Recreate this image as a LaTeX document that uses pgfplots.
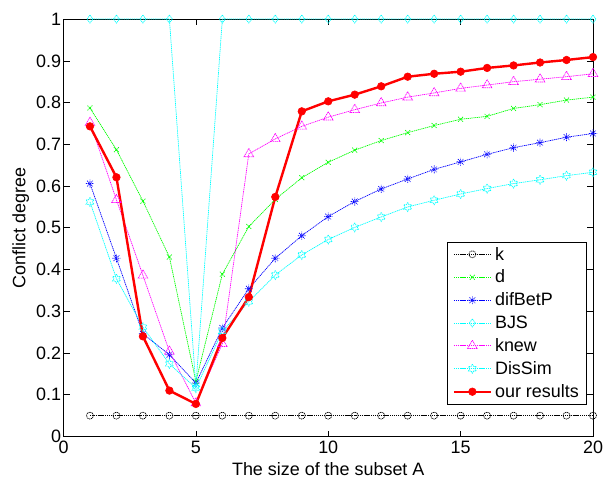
\documentclass[border=0pt]{standalone}
\usepackage{fontspec}
\setmainfont{Liberation Sans}
\usepackage{pgfplots}
\pgfplotsset{compat=1.18}

% MATLAB-like markers
\pgfdeclareplotmark{hexagram}{%
  \pgfpathmoveto{\pgfpointpolar{90}{\pgfplotmarksize}}%
  \pgfpathlineto{\pgfpointpolar{120}{0.577\pgfplotmarksize}}%
  \pgfpathlineto{\pgfpointpolar{150}{\pgfplotmarksize}}%
  \pgfpathlineto{\pgfpointpolar{180}{0.577\pgfplotmarksize}}%
  \pgfpathlineto{\pgfpointpolar{210}{\pgfplotmarksize}}%
  \pgfpathlineto{\pgfpointpolar{240}{0.577\pgfplotmarksize}}%
  \pgfpathlineto{\pgfpointpolar{270}{\pgfplotmarksize}}%
  \pgfpathlineto{\pgfpointpolar{300}{0.577\pgfplotmarksize}}%
  \pgfpathlineto{\pgfpointpolar{330}{\pgfplotmarksize}}%
  \pgfpathlineto{\pgfpointpolar{0}{0.577\pgfplotmarksize}}%
  \pgfpathlineto{\pgfpointpolar{30}{\pgfplotmarksize}}%
  \pgfpathlineto{\pgfpointpolar{60}{0.577\pgfplotmarksize}}%
  \pgfpathclose
  \pgfusepathqstroke}
\pgfdeclareplotmark{matstar}{%
  \pgfpathmoveto{\pgfpoint{-\pgfplotmarksize}{0pt}}%
  \pgfpathlineto{\pgfpoint{\pgfplotmarksize}{0pt}}%
  \pgfpathmoveto{\pgfpoint{0pt}{-\pgfplotmarksize}}%
  \pgfpathlineto{\pgfpoint{0pt}{\pgfplotmarksize}}%
  \pgfpathmoveto{\pgfpoint{-0.707\pgfplotmarksize}{-0.707\pgfplotmarksize}}%
  \pgfpathlineto{\pgfpoint{0.707\pgfplotmarksize}{0.707\pgfplotmarksize}}%
  \pgfpathmoveto{\pgfpoint{-0.707\pgfplotmarksize}{0.707\pgfplotmarksize}}%
  \pgfpathlineto{\pgfpoint{0.707\pgfplotmarksize}{-0.707\pgfplotmarksize}}%
  \pgfusepathqstroke}

\definecolor{mGreen}{rgb}{0,1,0}
\definecolor{mBlue}{rgb}{0,0,1}
\definecolor{mCyan}{rgb}{0,1,1}
\definecolor{mMag}{rgb}{1,0,1}
\definecolor{mRed}{rgb}{1,0,0}

\begin{document}
\begin{tikzpicture}
% figure margins as in the reference
\useasboundingbox (-63.5bp,-42.5bp) rectangle (541.5bp,436.5bp);
\begin{axis}[
    at={(0,0)}, anchor=south west,
    scale only axis,
    width=529.5bp,
    height=417.4bp,
    xmin=0, xmax=20,
    ymin=0, ymax=1,
    xtick={0,5,10,15,20},
    ytick={0,0.1,0.2,0.3,0.4,0.5,0.6,0.7,0.8,0.9,1},
    yticklabel style={/pgf/number format/fixed,/pgf/number format/precision=1},
    /pgf/number format/assume math mode=true,
    tick align=inside,
    major tick length=6bp,
    tick style={black,line width=0.6bp},
    axis line style={black,line width=0.9bp},
    ticklabel style={font=\fontsize{18}{21}\selectfont},
    xticklabel style={yshift=-1bp},
    yticklabel style={xshift=1bp},
    label style={font=\fontsize{18}{21}\selectfont},
    xlabel={The size of the subset A},
    ylabel={Conflict degree},
    xlabel style={yshift=-2bp},
    clip=false,
    every axis plot/.append style={line width=0.7bp, dash pattern=on 1.2bp off 0.7bp},
    every mark/.append style={solid, line width=0.6bp},
    legend image code/.code={%
        \draw[mark repeat=2,mark phase=2] plot coordinates {(0bp,0bp) (18.5bp,0bp) (37bp,0bp)};},
    legend style={at={(0.989,0.077)}, anchor=south east,
        draw=black, line width=0.8bp, fill=white,
        font=\fontsize{18}{21}\selectfont,
        row sep=6.5bp, inner xsep=5bp, inner ysep=4bp,
        nodes={inner xsep=3bp, inner ysep=1bp}},
    legend cell align=left,
]
\addplot[black, mark=o, mark size=3.5bp] coordinates {
(1,0.05) (2,0.05) (3,0.05) (4,0.05) (5,0.05) (6,0.05) (7,0.05) (8,0.05) (9,0.05) (10,0.05)
(11,0.05) (12,0.05) (13,0.05) (14,0.05) (15,0.05) (16,0.05) (17,0.05) (18,0.05) (19,0.05) (20,0.05)};
\addlegendentry{k}
\addplot[mGreen, mark=x, mark size=3.5bp] coordinates {
(1,0.787) (2,0.687) (3,0.564) (4,0.430) (5,0.132) (6,0.389) (7,0.503) (8,0.568) (9,0.620) (10,0.657)
(11,0.686) (12,0.709) (13,0.728) (14,0.745) (15,0.760) (16,0.767) (17,0.786) (18,0.795) (19,0.806) (20,0.813)};
\addlegendentry{d}
\addplot[mBlue, mark=matstar, mark size=4bp] coordinates {
(1,0.606) (2,0.427) (3,0.246) (4,0.196) (5,0.128) (6,0.260) (7,0.354) (8,0.427) (9,0.481) (10,0.527)
(11,0.563) (12,0.593) (13,0.617) (14,0.640) (15,0.658) (16,0.676) (17,0.692) (18,0.704) (19,0.717) (20,0.726)};
\addlegendentry{difBetP}
\addplot[mCyan, mark=diamond, mark size=4bp] coordinates {
(1,1) (2,1) (3,1) (4,1) (5,0.120) (6,1) (7,1) (8,1) (9,1) (10,1)
(11,1) (12,1) (13,1) (14,1) (15,1) (16,1) (17,1) (18,1) (19,1) (20,1)};
\addlegendentry{BJS}
\addplot[mMag, mark=triangle, mark size=5.5bp] coordinates {
(1,0.752) (2,0.567) (3,0.386) (4,0.204) (5,0.080) (6,0.222) (7,0.677) (8,0.713) (9,0.743) (10,0.765)
(11,0.783) (12,0.799) (13,0.813) (14,0.823) (15,0.834) (16,0.842) (17,0.850) (18,0.856) (19,0.862) (20,0.869)};
\addlegendentry{knew}
\addplot[mCyan, mark=hexagram, mark size=4.5bp] coordinates {
(1,0.562) (2,0.378) (3,0.262) (4,0.174) (5,0.116) (6,0.252) (7,0.323) (8,0.387) (9,0.435) (10,0.472)
(11,0.501) (12,0.526) (13,0.550) (14,0.566) (15,0.581) (16,0.594) (17,0.606) (18,0.615) (19,0.625) (20,0.633)};
\addlegendentry{DisSim}
\addplot[mRed, solid, line width=2.4bp, mark=*, mark size=3.8bp, mark options={fill=mRed, line width=0.6bp}] coordinates {
(1,0.743) (2,0.621) (3,0.240) (4,0.110) (5,0.078) (6,0.236) (7,0.334) (8,0.574) (9,0.779) (10,0.803)
(11,0.819) (12,0.839) (13,0.862) (14,0.869) (15,0.874) (16,0.883) (17,0.889) (18,0.896) (19,0.902) (20,0.909)};
\addlegendentry{our results}
\end{axis}
\end{tikzpicture}
\end{document}
